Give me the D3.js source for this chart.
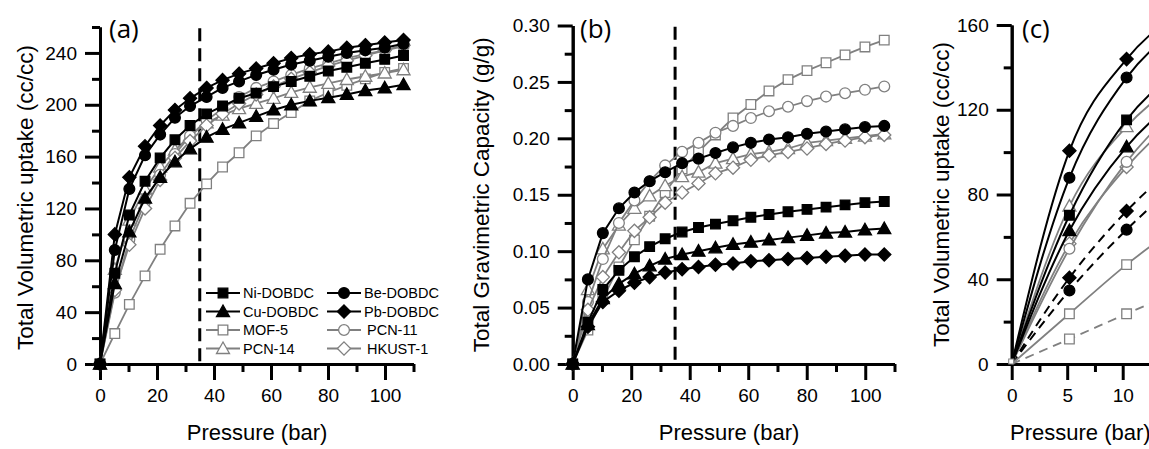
<!DOCTYPE html>
<html><head><meta charset="utf-8">
<script src="https://cdn.jsdelivr.net/npm/d3@7"></script>
<style>body{margin:0;background:#fff}svg{display:block}</style>
</head><body>
<svg id="chart" width="1149" height="449"></svg>
<script>
// ---------------- DATA ----------------
const pressure = [0, 5.2, 10.3, 15.8, 21.1, 26.3, 31.6, 37.4, 43, 48.8, 54.8, 60.9, 67.1, 73.6, 80.1, 86.6, 93.1, 99.9, 106.5];
const seriesNames = ["Ni-DOBDC", "Cu-DOBDC", "MOF-5", "PCN-14", "Be-DOBDC", "Pb-DOBDC", "PCN-11", "HKUST-1"];

// (a) total volumetric uptake (cc/cc)
const volNi    = [0, 70, 115, 141, 159, 173, 184, 193, 199, 205, 209, 214, 218, 222, 226, 229, 232, 235, 238];
const volCu    = [0, 62, 102, 128, 144, 156, 166, 175, 181, 186, 191, 196, 200, 203, 205.5, 208, 211, 213, 215.5];
const volMOF5  = [0, 23.5, 46, 68, 88.5, 106.5, 124, 139, 152, 163, 176, 185.5, 194, 203, 209.5, 215, 220, 225, 228];
const volPCN14 = [0, 73, 111, 135, 152, 165, 176, 186, 192, 197, 201, 205, 209.5, 213.5, 216.5, 219.5, 222, 224.5, 227];
const volBe    = [0, 88, 135, 161, 177, 190, 199, 206, 213, 218, 223, 227, 231, 234, 237, 240, 242, 244, 247];
const volPb    = [0, 100, 144, 168, 184, 196, 205, 213, 219, 224, 228, 232, 236, 239, 241, 244, 246, 248, 250];
const volPCN11 = [0, 55, 96, 125, 146, 162, 176, 188, 197, 206, 213, 218, 223, 228, 232, 236, 239, 242, 245];
const volHKUST = [0, 57, 92, 120, 142, 159, 172, 184, 193, 201, 208, 214, 220, 225, 230, 234, 238, 242, 246];

// (b) total gravimetric capacity (g/g)
const gravNi    = [0, 0.037, 0.066, 0.083, 0.095, 0.104, 0.111, 0.117, 0.121, 0.124, 0.127, 0.130, 0.1325, 0.135, 0.137, 0.139, 0.141, 0.143, 0.144];
const gravCu    = [0, 0.035, 0.058, 0.071, 0.080, 0.087, 0.093, 0.097, 0.100, 0.103, 0.106, 0.108, 0.110, 0.112, 0.114, 0.116, 0.117, 0.119, 0.120];
const gravMOF5  = [0, 0.030, 0.058, 0.086, 0.110, 0.131, 0.152, 0.173, 0.188, 0.203, 0.218, 0.230, 0.242, 0.252, 0.260, 0.267, 0.274, 0.281, 0.287];
const gravPCN14 = [0, 0.066, 0.102, 0.123, 0.138, 0.149, 0.158, 0.166, 0.170, 0.178, 0.182, 0.186, 0.188, 0.191, 0.196, 0.198, 0.200, 0.202, 0.204];
const gravBe    = [0, 0.075, 0.116, 0.138, 0.152, 0.162, 0.170, 0.178, 0.182, 0.187, 0.192, 0.196, 0.199, 0.201, 0.204, 0.206, 0.208, 0.210, 0.211];
const gravPb    = [0, 0.033, 0.055, 0.065, 0.072, 0.077, 0.081, 0.084, 0.086, 0.088, 0.089, 0.091, 0.092, 0.093, 0.094, 0.095, 0.096, 0.097, 0.097];
const gravPCN11 = [0, 0.055, 0.093, 0.125, 0.145, 0.162, 0.176, 0.188, 0.196, 0.205, 0.211, 0.218, 0.224, 0.228, 0.233, 0.237, 0.240, 0.243, 0.246];
const gravHKUST = [0, 0.048, 0.077, 0.099, 0.118, 0.130, 0.143, 0.152, 0.160, 0.169, 0.174, 0.181, 0.185, 0.188, 0.191, 0.195, 0.198, 0.201, 0.203];

// (c) low-pressure detail (cc/cc)
const pressureLow = [0, 5.2, 10.35, 15.8];
const lowNi    = [0, 70.2, 115.2, 141];
const lowCu    = [0, 63, 102.5, 128];
const lowMOF5  = [0, 23.7, 46.9, 68];
const lowPCN14 = [0, 74.5, 112, 135];
const lowBe    = [0, 87.9, 135.2, 161];
const lowPb    = [0, 100.6, 143.9, 168];
const lowPCN11 = [0, 54.4, 95.4, 125];
const lowHKUST = [0, 56.8, 93, 120];
const lowPbDashed   = [0, 40.7, 72.2, 98];
const lowBeDashed   = [0, 34.7, 63.4, 89];
const lowMOF5Dashed = [0, 11.8, 23.7, 36];

const yTicksA = [0, 40, 80, 120, 160, 200, 240];
const yTicksB = [0.00, 0.05, 0.10, 0.15, 0.20, 0.25, 0.30];
const yTicksC = [0, 40, 80, 120, 160];
const xTicksAB = [0, 20, 40, 60, 80, 100];
const xTicksC = [0, 5, 10, 15];
const markerLine = 35;

// ---------------- STYLE ----------------
const GRAY = "#808080";
const style = {
  "Ni-DOBDC": {shape: "square", fill: "#000", stroke: "#000", line: "#000"},
  "Cu-DOBDC": {shape: "triangle", fill: "#000", stroke: "#000", line: "#000"},
  "MOF-5":    {shape: "square", fill: "#fff", stroke: GRAY, line: GRAY},
  "PCN-14":   {shape: "triangle", fill: "#fff", stroke: GRAY, line: GRAY},
  "Be-DOBDC": {shape: "circle", fill: "#000", stroke: "#000", line: "#000"},
  "Pb-DOBDC": {shape: "diamond", fill: "#000", stroke: "#000", line: "#000"},
  "PCN-11":   {shape: "circle", fill: "#fff", stroke: GRAY, line: GRAY},
  "HKUST-1":  {shape: "diamond", fill: "#fff", stroke: GRAY, line: GRAY}
};
function markerPath(shape) {
  switch (shape) {
    case "square": return "M-4.8,-4.8H4.8V4.8H-4.8Z";
    case "circle": return "M5.4,0A5.4,5.4 0 1,1 -5.4,0A5.4,5.4 0 1,1 5.4,0Z";
    case "triangle": return "M0,-6.5L6.5,5H-6.5Z";
    case "diamond": return "M0,-6.6L6.6,0L0,6.6L-6.6,0Z";
  }
}
const FONT = "'Liberation Sans', Arial, sans-serif";
const LABEL_FONT = "'Open Sans', Lato, sans-serif";
const svg = d3.select("#chart");

const volSeries = {"Ni-DOBDC": volNi, "Cu-DOBDC": volCu, "MOF-5": volMOF5, "PCN-14": volPCN14,
  "Be-DOBDC": volBe, "Pb-DOBDC": volPb, "PCN-11": volPCN11, "HKUST-1": volHKUST};
const gravSeries = {"Ni-DOBDC": gravNi, "Cu-DOBDC": gravCu, "MOF-5": gravMOF5, "PCN-14": gravPCN14,
  "Be-DOBDC": gravBe, "Pb-DOBDC": gravPb, "PCN-11": gravPCN11, "HKUST-1": gravHKUST};
const lowSeries = {"Ni-DOBDC": lowNi, "Cu-DOBDC": lowCu, "MOF-5": lowMOF5, "PCN-14": lowPCN14,
  "Be-DOBDC": lowBe, "Pb-DOBDC": lowPb, "PCN-11": lowPCN11, "HKUST-1": lowHKUST};
const drawOrder = ["MOF-5", "PCN-14", "PCN-11", "HKUST-1", "Cu-DOBDC", "Ni-DOBDC", "Be-DOBDC", "Pb-DOBDC"];

function drawAxes(g, x, y, xMajor, xMinor, yMajor, yMinor, yFmt) {
  const ax = g.append("g").attr("transform", `translate(0,${y.range()[0]})`)
    .call(d3.axisBottom(x).tickValues(xMajor).tickSize(16).tickSizeOuter(0).tickPadding(9).tickFormat(d3.format("d")));
  const axm = g.append("g").attr("transform", `translate(0,${y.range()[0]})`)
    .call(d3.axisBottom(x).tickValues(xMinor).tickSize(8).tickSizeOuter(0).tickFormat(""));
  const ay = g.append("g").attr("transform", `translate(${x.range()[0]},0)`)
    .call(d3.axisLeft(y).tickValues(yMajor).tickSize(15).tickSizeOuter(0).tickPadding(8).tickFormat(yFmt));
  const aym = g.append("g").attr("transform", `translate(${x.range()[0]},0)`)
    .call(d3.axisLeft(y).tickValues(yMinor).tickSize(8).tickSizeOuter(0).tickFormat(""));
  [ax, axm, ay, aym].forEach(a => {
    a.select(".domain").attr("stroke", "#000").attr("stroke-width", 3);
    a.selectAll(".tick line").attr("stroke", "#000").attr("stroke-width", 3);
    a.selectAll(".tick text").attr("font-family", FONT).attr("font-size", 19).attr("fill", "#000");
  });
}

function drawSeries(g, x, y, xs, ys, name, curve, dash, showIdx) {
  const s = style[name];
  const line = d3.line().x((d, i) => x(xs[i])).y(d => y(d)).curve(curve);
  g.append("path").datum(ys).attr("d", line).attr("fill", "none")
    .attr("stroke", s.line).attr("stroke-width", s.line === "#000" ? 2 : 1.8)
    .attr("stroke-dasharray", dash || null);
  g.selectAll(null).data(ys.map((v, i) => [xs[i], v, i]).filter(d => !showIdx || showIdx.includes(d[2])))
    .enter().append("path")
    .attr("d", markerPath(s.shape))
    .attr("transform", d => `translate(${x(d[0])},${y(d[1])})`)
    .attr("fill", s.fill).attr("stroke", s.stroke).attr("stroke-width", 1.3);
}

function titles(g, label, lx, yTitle, yx, ymid, xmid, xAnchor) {
  g.append("text").attr("x", lx).attr("y", 38).attr("font-family", LABEL_FONT).attr("font-size", 26).text(label);
  g.append("text").attr("transform", `translate(${yx},${ymid}) rotate(-90)`).attr("text-anchor", "middle")
    .attr("font-family", FONT).attr("font-size", 22.5).text(yTitle);
  g.append("text").attr("x", xmid).attr("y", 440).attr("text-anchor", xAnchor || "middle")
    .attr("font-family", FONT).attr("font-size", 22).text("Pressure (bar)");
}

// ---------------- PANEL A ----------------
{
  const x = d3.scaleLinear().domain([0, 110]).range([100, 413.5]);
  const y = d3.scaleLinear().domain([0, 260]).range([364, 27]);
  const g = svg.append("g");
  drawAxes(g, x, y, xTicksAB, [10, 30, 50, 70, 90, 110], yTicksA, [20, 60, 100, 140, 180, 220, 260], d3.format("d"));
  g.append("line").attr("x1", x(markerLine)).attr("x2", x(markerLine)).attr("y1", y(259)).attr("y2", y(0))
    .attr("stroke", "#000").attr("stroke-width", 3).attr("stroke-dasharray", "13,7");
  drawOrder.forEach(n => drawSeries(g, x, y, pressure, volSeries[n], n, d3.curveLinear));
  // legend
  const rows = [["Ni-DOBDC", "Be-DOBDC"], ["Cu-DOBDC", "Pb-DOBDC"], ["MOF-5", "PCN-11"], ["PCN-14", "HKUST-1"]];
  rows.forEach((r, i) => {
    r.forEach((name, j) => {
      const s = style[name];
      const x0 = j === 0 ? 206 : 327, yy = 293 + i * 18.5;
      g.append("line").attr("x1", x0).attr("x2", x0 + 34).attr("y1", yy).attr("y2", yy)
        .attr("stroke", s.line).attr("stroke-width", s.line === "#000" ? 2 : 1.8);
      g.append("path").attr("d", markerPath(s.shape)).attr("transform", `translate(${x0 + 17},${yy})`)
        .attr("fill", s.fill).attr("stroke", s.stroke).attr("stroke-width", 1.3);
      g.append("text").attr("x", x0 + 37 + (s.line === GRAY && j === 1 ? 3 : 0)).attr("y", yy + 5)
        .attr("font-family", FONT).attr("font-size", 14.5).text(name);
    });
  });
  titles(g, "(a)", 109, "Total Volumetric uptake (cc/cc)", 33, (y(0) + y(260)) / 2 + 2, 257);
}

// ---------------- PANEL B ----------------
{
  const x = d3.scaleLinear().domain([0, 110]).range([572.7, 894.5]);
  const y = d3.scaleLinear().domain([0, 0.30]).range([364, 25.5]);
  const g = svg.append("g");
  drawAxes(g, x, y, xTicksAB, [10, 30, 50, 70, 90, 110], yTicksB, [0.025, 0.075, 0.125, 0.175, 0.225, 0.275], d3.format(".2f"));
  g.append("line").attr("x1", x(markerLine)).attr("x2", x(markerLine)).attr("y1", y(0.299)).attr("y2", y(0))
    .attr("stroke", "#000").attr("stroke-width", 3).attr("stroke-dasharray", "13,7");
  drawOrder.forEach(n => drawSeries(g, x, y, pressure, gravSeries[n], n, d3.curveLinear));
  titles(g, "(b)", 580, "Total Gravimetric Capacity (g/g)", 489, (y(0) + y(0.3)) / 2, 729);
}

// ---------------- PANEL C ----------------
{
  const x = d3.scaleLinear().domain([0, 15]).range([1011.7, 1178.2]);
  const y = d3.scaleLinear().domain([0, 160]).range([364, 25]);
  const g = svg.append("g");
  drawAxes(g, x, y, xTicksC, [2.5, 7.5, 12.5], yTicksC, [20, 60, 100, 140], d3.format("d"));
  const cOrder = ["MOF-5", "HKUST-1", "PCN-11", "PCN-14", "Cu-DOBDC", "Ni-DOBDC", "Be-DOBDC", "Pb-DOBDC"];
  drawSeries(g, x, y, pressureLow, lowMOF5Dashed, "MOF-5", d3.curveMonotoneX, "9,6", [1, 2]);
  drawSeries(g, x, y, pressureLow, lowBeDashed, "Be-DOBDC", d3.curveMonotoneX, "9,6", [1, 2]);
  drawSeries(g, x, y, pressureLow, lowPbDashed, "Pb-DOBDC", d3.curveMonotoneX, "9,6", [1, 2]);
  cOrder.forEach(n => drawSeries(g, x, y, pressureLow, lowSeries[n], n, d3.curveMonotoneX, null, [1, 2]));
  g.append("rect").attr("x", x(0) - 3).attr("y", y(0) - 5).attr("width", 5).attr("height", 5)
    .attr("fill", "#fff").attr("stroke", GRAY).attr("stroke-width", 1);
  titles(g, "(c)", 1022, "Total Volumetric uptake (cc/cc)", 949, (y(0) + y(160)) / 2, 1010, "start");
}
</script>
</body></html>
